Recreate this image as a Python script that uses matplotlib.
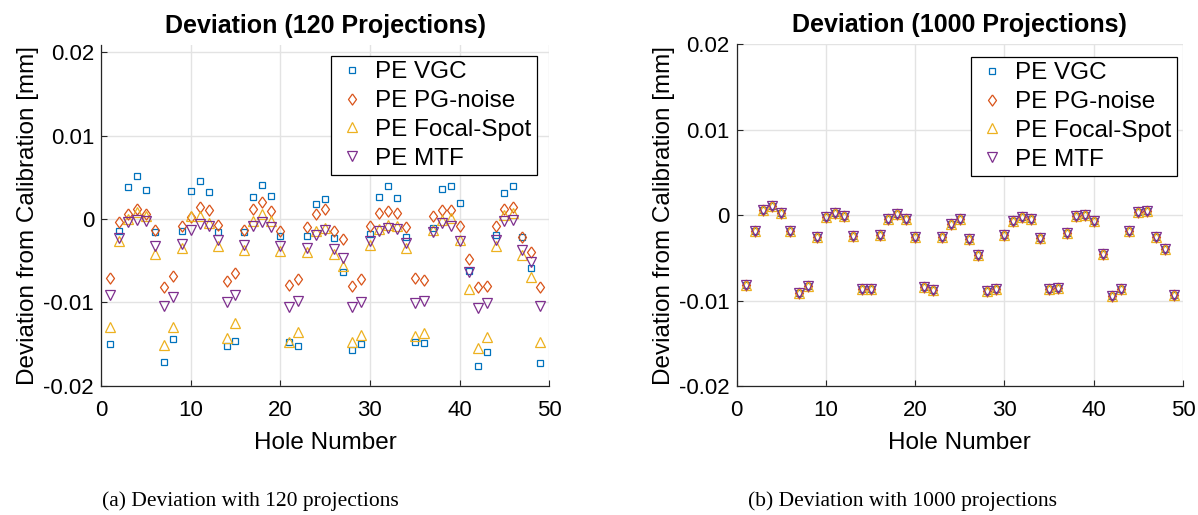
import matplotlib
matplotlib.use("Agg")
import matplotlib.pyplot as plt
import numpy as np

plt.rcParams['font.family'] = ['Liberation Sans', 'DejaVu Sans']

holes = list(range(1, 50))

# 120 projections
vgc_120 = [-0.0150, -0.0014, 0.0038, 0.0052, 0.0035, -0.0016, -0.0171, -0.0144, -0.0014, 0.0033,
           0.0046, 0.0032, -0.0016, -0.0152, -0.0146, -0.0016, 0.0026, 0.0041, 0.0027, -0.0021,
           -0.0147, -0.0152, -0.0021, 0.0018, 0.0024, -0.0023, -0.0064, -0.0157, -0.0150, -0.0018,
           0.0026, 0.0040, 0.0025, -0.0022, -0.0148, -0.0149, -0.0011, 0.0036, 0.0039, 0.0019,
           -0.0063, -0.0176, -0.0160, -0.0019, 0.0031, 0.0039, -0.0022, -0.0059, -0.0173]
pg_120 = [-0.0071, -0.0004, 0.0006, 0.0012, 0.0006, -0.0013, -0.0082, -0.0068, -0.0008, 0.0002,
          0.0014, 0.0011, -0.0007, -0.0075, -0.0065, -0.0013, 0.0012, 0.0020, 0.0009, -0.0014,
          -0.0079, -0.0072, -0.0010, 0.0006, 0.0012, -0.0015, -0.0024, -0.0080, -0.0072, -0.0009,
          0.0007, 0.0009, 0.0007, -0.0010, -0.0071, -0.0073, 0.0003, 0.0011, 0.0011, -0.0008,
          -0.0048, -0.0082, -0.0080, -0.0009, 0.0012, 0.0014, -0.0022, -0.0040, -0.0082]
fs_120 = [-0.0129, -0.0026, 0.0000, 0.0008, 0.0004, -0.0042, -0.0151, -0.0130, -0.0035, 0.0003,
          0.0004, -0.0005, -0.0032, -0.0143, -0.0125, -0.0037, -0.0003, 0.0006, -0.0003, -0.0039,
          -0.0147, -0.0136, -0.0040, -0.0015, -0.0011, -0.0042, -0.0057, -0.0147, -0.0139, -0.0031,
          -0.0012, -0.0007, -0.0009, -0.0035, -0.0140, -0.0137, -0.0013, -0.0001, 0.0001, -0.0025,
          -0.0084, -0.0155, -0.0142, -0.0033, 0.0005, 0.0007, -0.0043, -0.0070, -0.0148]
mtf_120 = [-0.0091, -0.0023, -0.0004, -0.0001, -0.0003, -0.0032, -0.0104, -0.0093, -0.0030, -0.0013,
           -0.0006, -0.0009, -0.0025, -0.0100, -0.0091, -0.0031, -0.0009, -0.0004, -0.0010, -0.0033,
           -0.0105, -0.0098, -0.0035, -0.0019, -0.0013, -0.0036, -0.0047, -0.0105, -0.0100, -0.0027,
           -0.0015, -0.0011, -0.0012, -0.0029, -0.0101, -0.0098, -0.0016, -0.0005, -0.0009, -0.0027,
           -0.0064, -0.0107, -0.0101, -0.0025, -0.0002, -0.0001, -0.0037, -0.0052, -0.0104]

# 1000 projections
vgc_1000 = [-0.0082, -0.0018, 0.0006, 0.0011, 0.0003, -0.0019, -0.0091, -0.0083, -0.0025, -0.0002,
            0.0002, -0.0001, -0.0024, -0.0087, -0.0086, -0.0023, -0.0004, 0.0001, -0.0004, -0.0025,
            -0.0084, -0.0088, -0.0025, -0.0010, -0.0004, -0.0028, -0.0047, -0.0089, -0.0086, -0.0023,
            -0.0007, -0.0002, -0.0005, -0.0027, -0.0086, -0.0085, -0.0021, -0.0001, 0.0000, -0.0007,
            -0.0046, -0.0095, -0.0087, -0.0019, 0.0004, 0.0005, -0.0025, -0.0040, -0.0093]
pg_1000 = list(vgc_1000)
fs_1000 = list(vgc_1000)
mtf_1000 = list(vgc_1000)

labels = ['PE VGC', 'PE PG-noise', 'PE Focal-Spot', 'PE MTF']
colors = ['#0072BD', '#D95319', '#EDB120', '#7E2F8E']
diamond = [(0, 1), (0.72, 0), (0, -1), (-0.72, 0), (0, 1)]
markers = ['s', diamond, '^', 'v']
msizes = [5, 8, 7.5, 7.5]

fig = plt.figure(figsize=(11.98, 5.15), dpi=100)
W, H = 1198, 515

def make_ax(x0, x1, ytop, ybot):
    return fig.add_axes([x0 / W, (H - ybot) / H, (x1 - x0) / W, (ybot - ytop) / H])

ax1 = make_ax(101, 549.3, 45, 385.7)
ax2 = make_ax(736.7, 1183, 44.3, 386)

def style(ax, title, ylim, series, legend_anchor):
    for vals, lab, c, m, ms in zip(series, labels, colors, markers, msizes):
        ax.plot(holes, vals, linestyle='none', marker=m, markersize=ms,
                markerfacecolor='none', markeredgecolor=c, markeredgewidth=0.9, label=lab)
    ax.set_xlim(0, 50)
    ax.set_ylim(*ylim)
    ax.set_xticks([0, 10, 20, 30, 40, 50])
    ax.set_yticks([-0.02, -0.01, 0, 0.01, 0.02])
    ax.set_yticklabels(['-0.02', '-0.01', '0', '0.01', '0.02'])
    ax.grid(True, color='#e3e3e3', linewidth=1)
    ax.set_axisbelow(True)
    for s in ['top', 'right']:
        ax.spines[s].set_visible(False)
    for s in ['left', 'bottom']:
        ax.spines[s].set_color('#262626')
        ax.spines[s].set_linewidth(0.9)
    ax.tick_params(direction='in', length=4, width=0.8, labelsize=16, colors='#262626',
                   labelcolor='black')
    ax.tick_params(axis='x', pad=10)
    ax.tick_params(axis='y', pad=5)
    ax.set_title(title, fontsize=18, fontweight='bold', pad=9)
    ax.set_xlabel('Hole Number', fontsize=17.5, labelpad=8)
    ax.set_ylabel('Deviation from Calibration [mm]', fontsize=17.5, labelpad=3)
    leg = ax.legend(loc='upper right', bbox_to_anchor=legend_anchor, fontsize=17.5,
                    frameon=True, fancybox=False, framealpha=1, edgecolor='black',
                    labelspacing=0.28, handletextpad=0.3, borderpad=0.22, handlelength=1.3,
                    borderaxespad=0)
    leg.get_frame().set_linewidth(0.9)

style(ax1, 'Deviation (120 Projections)', (-0.02, 0.02087),
      [vgc_120, pg_120, fs_120, mtf_120], (0.9726, 0.9677))
style(ax2, 'Deviation (1000 Projections)', (-0.02, 0.02),
      [vgc_1000, pg_1000, fs_1000, mtf_1000], (0.9866, 0.963))

fig.text(250 / W, 1 - 501 / H, '(a) Deviation with 120 projections', ha='center', va='center',
         fontsize=15.5, family='Liberation Serif')
fig.text(902 / W, 1 - 501 / H, '(b) Deviation with 1000 projections', ha='center', va='center',
         fontsize=15.5, family='Liberation Serif')

fig.savefig('out.png', dpi=100)
